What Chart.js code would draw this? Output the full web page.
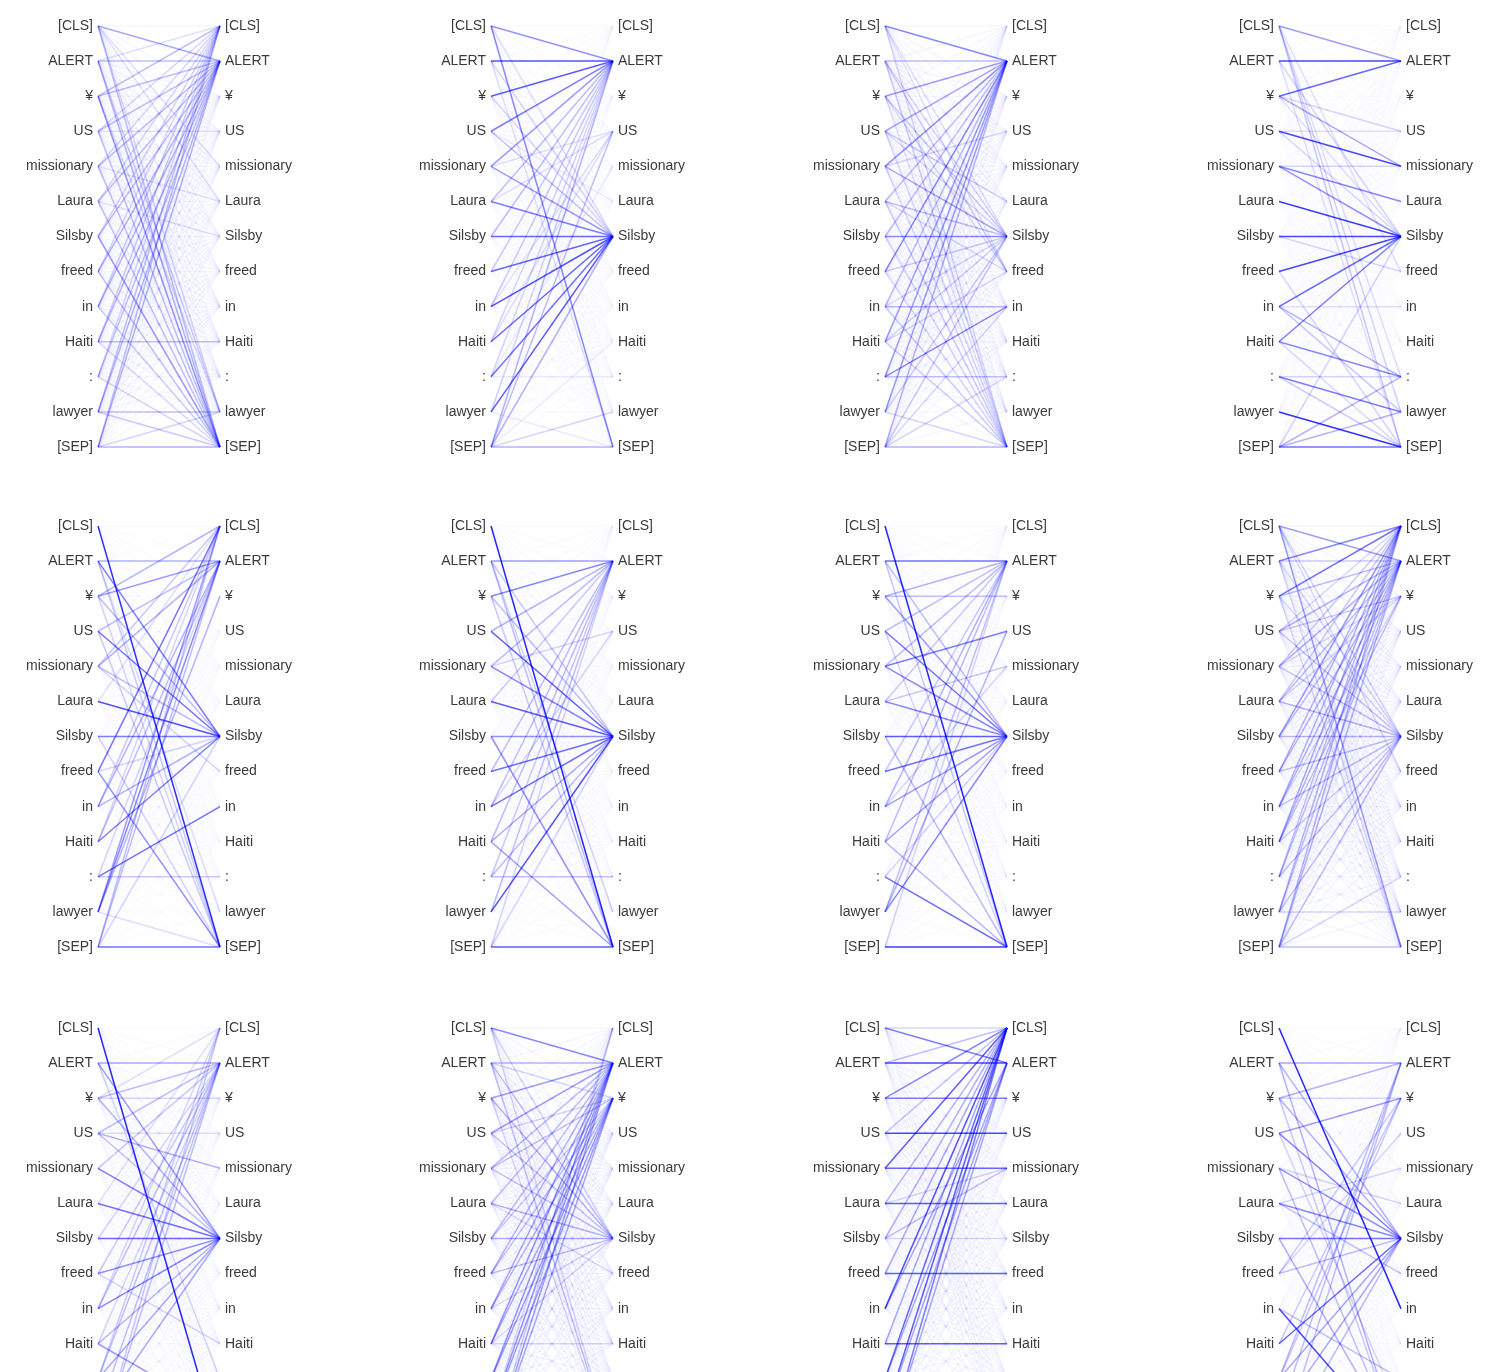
<!DOCTYPE html>
<html>
<head>
<meta charset="utf-8">
<script src="https://cdn.jsdelivr.net/npm/chart.js@4/dist/chart.umd.min.js"></script>
<style>
  html, body { margin: 0; padding: 0; background: #fff; }
  #page { position: relative; width: 1498px; height: 1372px; overflow: hidden; }
  #page canvas { position: absolute; }
</style>
</head>
<body>
<div id="page"></div>
<script>
const tokens = ['[CLS]', 'ALERT', '¥', 'US', 'missionary', 'Laura', 'Silsby', 'freed', 'in', 'Haiti', ':', 'lawyer', '[SEP]'];

// attention edges per head: [from token, to token, weight]
const head1 = [[0,1,.4],[0,12,.3],[0,11,.2],[0,4,.15],[0,5,.15],
  [1,1,.3],[1,12,.35],[1,11,.25],[1,0,.15],
  [2,0,.3],[2,1,.3],[2,12,.5],[2,11,.2],
  [3,1,.3],[3,0,.2],[3,12,.3],[3,3,.15],
  [4,1,.3],[4,0,.2],[4,12,.3],[4,5,.15],
  [5,1,.3],[5,12,.3],[5,0,.2],[5,6,.15],
  [6,12,.45],[6,1,.3],[6,0,.2],
  [7,1,.35],[7,12,.3],[7,0,.2],
  [8,1,.35],[8,0,.25],[8,12,.25],
  [9,9,.3],[9,1,.35],[9,0,.25],[9,12,.2],
  [10,1,.3],[10,0,.2],[10,12,.2],
  [11,11,.3],[11,1,.35],[11,0,.3],[11,12,.25],
  [12,12,.35],[12,1,.35],[12,0,.3],[12,11,.2]];
const head2 = [[0,1,.5],[0,12,.55],[0,6,.15],
  [1,1,.8],[1,6,.2],[1,12,.15],
  [2,1,.75],[2,6,.2],
  [3,1,.6],[3,6,.3],[3,5,.1],
  [4,1,.45],[4,6,.45],[4,3,.15],
  [5,6,.6],[5,1,.3],[5,3,.15],
  [6,6,.7],[6,1,.3],
  [7,6,.7],[7,1,.25],
  [8,6,.8],[8,1,.25],[8,3,.15],
  [9,6,.7],[9,1,.2],[9,3,.15],
  [10,6,.65],[10,1,.2],[10,10,.1],[10,4,.1],
  [11,6,.75],[11,1,.2],[11,12,.1],
  [12,1,.35],[12,6,.35],[12,12,.35],[12,3,.3],[12,11,.2],[12,9,.1]];
const head3 = [[0,1,.55],[0,12,.2],[0,6,.15],[0,7,.15],
  [1,1,.3],[1,12,.25],[1,7,.25],[1,6,.2],
  [2,1,.45],[2,6,.25],[2,7,.2],[2,12,.15],
  [3,1,.4],[3,5,.25],[3,12,.2],[3,6,.2],
  [4,1,.5],[4,6,.4],[4,3,.2],[4,12,.2],
  [5,1,.3],[5,6,.3],[5,12,.25],[5,7,.2],
  [6,6,.55],[6,1,.3],[6,12,.2],
  [7,1,.55],[7,6,.25],[7,12,.2],
  [8,8,.35],[8,1,.3],[8,12,.25],[8,6,.2],
  [9,1,.45],[9,6,.25],[9,12,.25],[9,7,.2],
  [10,8,.55],[10,1,.45],[10,10,.3],
  [11,1,.45],[11,6,.25],[11,12,.2],
  [12,12,.35],[12,1,.35],[12,6,.25],[12,10,.2],[12,8,.2]];
const head4 = [[0,1,.45],[0,12,.25],[0,11,.2],[0,10,.15],[0,7,.15],
  [1,1,.85],[1,6,.2],[1,12,.15],
  [2,1,.7],[2,4,.4],[2,3,.2],[2,6,.15],
  [3,4,.85],[3,3,.15],[3,6,.2],
  [4,5,.55],[4,6,.5],[4,4,.2],
  [5,6,.9],
  [6,6,.85],[6,7,.2],
  [7,6,.85],[7,12,.2],
  [8,6,.7],[8,10,.35],[8,11,.25],[8,8,.15],
  [9,6,.6],[9,10,.55],[9,12,.2],
  [10,11,.6],[10,12,.25],[10,10,.2],
  [11,12,.95],
  [12,12,.65],[12,11,.35],[12,10,.35],[12,6,.2]];
const head5 = [[0,12,.95],
  [1,6,.6],[1,1,.35],[1,12,.25],[1,11,.15],
  [2,1,.45],[2,0,.35],[2,6,.3],[2,12,.2],
  [3,6,.65],[3,1,.3],[3,12,.25],
  [4,1,.35],[4,0,.25],[4,6,.3],[4,7,.2],
  [5,6,.8],[5,0,.15],
  [6,6,.6],[6,12,.2],
  [7,0,.65],[7,12,.5],[7,6,.2],
  [8,6,.35],[8,1,.35],[8,0,.25],
  [9,6,.6],[9,1,.3],[9,0,.2],
  [10,8,.65],[10,10,.25],[10,1,.2],
  [11,1,.55],[11,0,.45],[11,2,.35],[11,12,.15],
  [12,12,.65],[12,1,.3],[12,0,.3],[12,6,.2]];
const head6 = [[0,12,1],
  [1,1,.45],[1,12,.3],[1,6,.25],[1,11,.2],
  [2,1,.55],[2,6,.3],[2,12,.25],
  [3,6,.75],[3,1,.35],
  [4,6,.55],[4,1,.3],[4,3,.2],
  [5,6,.75],[5,1,.25],
  [6,6,.5],[6,12,.5],
  [7,6,.65],[7,1,.3],
  [8,6,.65],[8,1,.3],[8,3,.2],
  [9,6,.4],[9,12,.45],[9,1,.3],
  [10,10,.3],[10,6,.3],[10,1,.25],
  [11,6,.8],[11,1,.3],
  [12,12,.75],[12,6,.2],[12,1,.2]];
const head7 = [[0,12,1],
  [1,1,.65],[1,6,.3],[1,12,.25],
  [2,1,.35],[2,6,.45],[2,2,.3],
  [3,6,.65],[3,1,.3],[3,12,.2],
  [4,3,.6],[4,6,.55],[4,1,.3],
  [5,6,.55],[5,4,.25],[5,1,.25],
  [6,6,.75],[6,12,.3],
  [7,6,.65],[7,1,.25],
  [8,6,.45],[8,1,.35],[8,4,.2],
  [9,6,.45],[9,12,.35],[9,1,.3],
  [10,12,.65],[10,6,.2],
  [11,6,.55],[11,3,.35],[11,1,.3],
  [12,12,.9],[12,1,.2]];
const head8 = [[0,1,.45],[0,12,.45],[0,6,.2],[0,7,.2],
  [1,0,.55],[1,1,.25],[1,6,.2],[1,12,.2],
  [2,0,.65],[2,1,.3],[2,6,.2],[2,12,.2],
  [3,1,.35],[3,2,.25],[3,6,.3],[3,0,.2],
  [4,1,.35],[4,6,.3],[4,0,.25],[4,2,.2],
  [5,6,.35],[5,1,.3],[5,0,.25],[5,2,.2],
  [6,0,.45],[6,6,.35],[6,1,.3],
  [7,0,.35],[7,1,.35],[7,6,.3],
  [8,0,.35],[8,1,.35],[8,6,.3],[8,2,.2],
  [9,0,.4],[9,1,.35],[9,2,.3],[9,6,.25],
  [10,1,.3],[10,0,.3],[10,6,.3],
  [11,0,.35],[11,1,.3],[11,6,.3],[11,11,.2],
  [12,0,.35],[12,1,.35],[12,12,.3],[12,6,.3],[12,10,.2]];
const head9 = [[0,12,1],
  [1,1,.4],[1,6,.45],[1,10,.2],
  [2,6,.35],[2,1,.3],[2,0,.15],[2,2,.2],
  [3,4,.35],[3,6,.3],[3,1,.3],[3,3,.15],
  [4,6,.6],[4,1,.25],
  [5,6,.65],[5,0,.15],
  [6,6,.7],[6,1,.2],
  [7,6,.5],[7,1,.25],[7,9,.2],
  [8,6,.55],[8,1,.3],[8,0,.2],
  [9,11,.45],[9,6,.35],[9,1,.2],
  [10,6,.4],[10,1,.3],[10,0,.25],
  [11,6,.4],[11,1,.3],
  [12,12,.5],[12,1,.3],[12,0,.25]];
const head10 = [[0,1,.55],[0,12,.2],[0,6,.2],
  [1,1,.35],[1,12,.3],[1,6,.3],[1,2,.2],
  [2,1,.45],[2,6,.35],[2,12,.2],
  [3,1,.45],[3,6,.3],[3,2,.2],
  [4,1,.3],[4,2,.3],[4,6,.3],
  [5,1,.3],[5,6,.35],[5,7,.2],
  [6,6,.4],[6,1,.3],[6,2,.25],
  [7,1,.35],[7,2,.3],[7,6,.3],
  [8,1,.4],[8,2,.35],[8,6,.2],
  [9,1,.5],[9,2,.4],[9,6,.2],[9,9,.2],
  [10,1,.5],[10,2,.45],
  [11,1,.5],[11,2,.45],[11,0,.2],
  [12,1,.45],[12,2,.4],[12,0,.25]];
const head11 = [[0,1,.6],[0,0,.2],
  [1,1,.85],[1,0,.3],
  [2,2,.6],[2,0,.55],
  [3,3,.85],[3,0,.3],
  [4,0,.75],[4,4,.7],
  [5,5,.75],[5,0,.35],[5,4,.2],
  [6,0,.35],[6,6,.2],[6,4,.3],
  [7,7,.75],[7,0,.4],
  [8,0,.8],[8,1,.4],
  [9,9,.75],[9,0,.4],
  [10,0,.7],[10,1,.4],
  [11,0,.75],[11,1,.4],[11,11,.3],
  [12,0,.6],[12,1,.4],[12,12,.3]];
const head12 = [[0,8,1],
  [1,1,.4],[1,6,.35],[1,12,.35],
  [2,1,.35],[2,6,.35],[2,2,.2],[2,12,.25],
  [3,6,.6],[3,2,.45],[3,11,.2],
  [4,6,.5],[4,5,.2],[4,12,.3],
  [5,6,.55],[5,7,.3],[5,4,.2],
  [6,6,.65],[6,12,.35],
  [7,6,.3],[7,2,.25],[7,3,.2],
  [8,12,.85],[8,10,.3],
  [9,6,.7],[9,2,.25],
  [10,6,.4],[10,1,.3],[10,2,.25],
  [11,6,.4],[11,1,.3],
  [12,12,.5],[12,1,.3],[12,6,.3]];

const heads = [head1, head2, head3, head4, head5, head6, head7, head8, head9, head10, head11, head12];
// faint weight of all the other pairs in each head
const floors = [.045, .025, .045, .02, .02, .025, .025, .05, .03, .05, .04, .025];

const colLeft = [98, 491, 885, 1279];
const rowTop = [25, 525, 1027];
const axisW = 90;
const spanW = 122;
const spanH = 421;
const padV = 15;

const page = document.getElementById('page');

function makeLines(edges, floor) {
    const w = [];
    for (let i = 0; i < tokens.length; i++) {
        w.push(new Array(tokens.length).fill(floor));
    }
    edges.forEach(e => { w[e[0]][e[1]] = e[2]; });
    const sets = [];
    for (let i = 0; i < tokens.length; i++) {
        for (let j = 0; j < tokens.length; j++) {
            sets.push({
                data: [{x: 0, y: i}, {x: 1, y: j}],
                yAxisID: 'yl',
                showLine: true,
                borderColor: 'rgba(0, 0, 255, ' + (w[i][j] * 0.85).toFixed(3) + ')',
                borderWidth: 1.5,
                pointRadius: 0,
                clip: false
            });
        }
    }
    return sets;
}

function tokenAxis(pos) {
    return {
        type: 'linear',
        axis: 'y',
        position: pos,
        min: 0,
        max: tokens.length - 1,
        reverse: true,
        grid: {display: false, drawTicks: false},
        border: {display: false},
        ticks: {
            stepSize: 1,
            autoSkip: false,
            padding: 5,
            color: '#3a3a3a',
            font: {family: "'Liberation Sans', Arial, sans-serif", size: 14},
            callback: v => tokens[Math.round(v)]
        },
        afterFit: s => { s.width = axisW; }
    };
}

heads.forEach((edges, h) => {
    const row = Math.floor(h / 4);
    const col = h % 4;
    const cv = document.createElement('canvas');
    cv.width = axisW * 2 + spanW;
    cv.height = spanH + padV * 2;
    cv.style.left = (colLeft[col] - axisW) + 'px';
    cv.style.top = (rowTop[row] - padV + 1) + 'px';
    page.appendChild(cv);

    new Chart(cv, {
        type: 'scatter',
        data: {datasets: makeLines(edges, floors[h])},
        options: {
            responsive: false,
            animation: false,
            layout: {padding: {top: padV, bottom: padV, left: 0, right: 0}},
            plugins: {legend: {display: false}, tooltip: {enabled: false}},
            scales: {
                x: {type: 'linear', min: 0, max: 1, display: false},
                yl: tokenAxis('left'),
                yr: tokenAxis('right')
            }
        }
    });
});
</script>
</body>
</html>
